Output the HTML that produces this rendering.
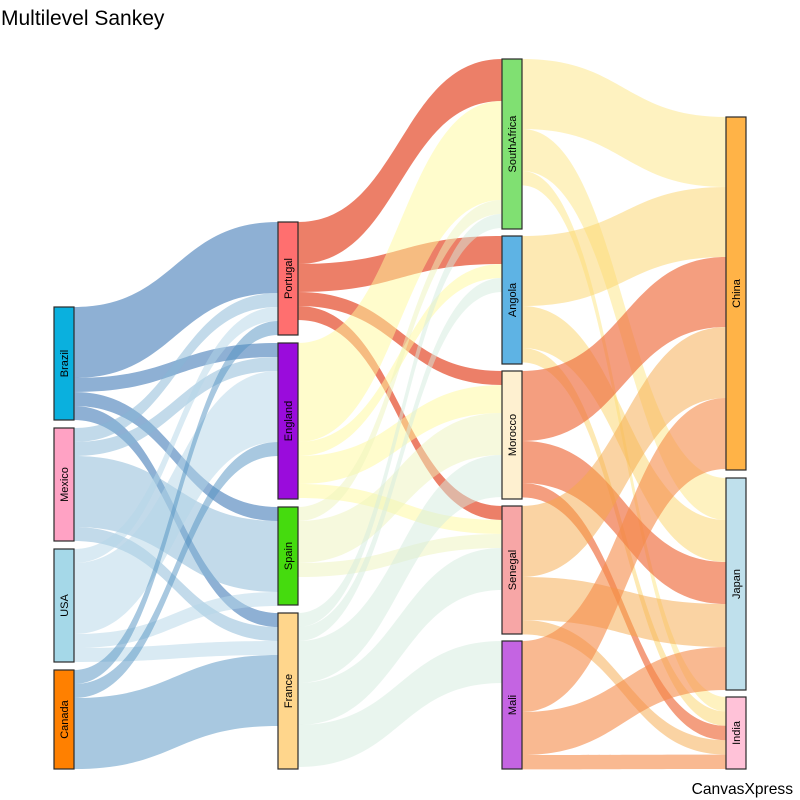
<!DOCTYPE html>
<html>
<head>
<meta charset="utf-8">
<style>
html,body{margin:0;padding:0;background:#fff;}
svg{display:block;}
text{font-family:"Liberation Sans",Arial,sans-serif;}
</style>
</head>
<body>
<svg width="800" height="800" viewBox="0 0 800 800" xmlns="http://www.w3.org/2000/svg">
<rect width="800" height="800" fill="#fff"/>
<text x="1" y="25" font-size="21" fill="#000">Multilevel Sankey</text>

<!-- col1 -> col2 -->
<g fill-opacity="0.5">
<g fill="#1D61A9">
<path d="M74 307C176 307 176 222 278 222L278 293C176 293 176 378 74 378Z"/>
<path d="M74 378C176 378 176 343 278 343L278 357C176 357 176 392 74 392Z"/>
<path d="M74 392C176 392 176 507 278 507L278 521C176 521 176 406 74 406Z"/>
<path d="M74 406C176 406 176 613 278 613L278 627C176 627 176 420 74 420Z"/>
</g>
<g fill="#85B5D5">
<path d="M74 428C176 428 176 293 278 293L278 307C176 307 176 442 74 442Z"/>
<path d="M74 442C176 442 176 357 278 357L278 371C176 371 176 456 74 456Z"/>
<path d="M74 456C176 456 176 521 278 521L278 592C176 592 176 527 74 527Z"/>
<path d="M74 527C176 527 176 627 278 627L278 641C176 641 176 541 74 541Z"/>
</g>
<g fill="#B3D5E7">
<path d="M74 549C176 549 176 307 278 307L278 321C176 321 176 563 74 563Z"/>
<path d="M74 563C176 563 176 371 278 371L278 442C176 442 176 634 74 634Z"/>
<path d="M74 634C176 634 176 592 278 592L278 606C176 606 176 648 74 648Z"/>
<path d="M74 648C176 648 176 641 278 641L278 655C176 655 176 662 74 662Z"/>
</g>
<g fill="#5191C1">
<path d="M74 670C176 670 176 321 278 321L278 335C176 335 176 684 74 684Z"/>
<path d="M74 684C176 684 176 442 278 442L278 456C176 456 176 698 74 698Z"/>
<path d="M74 698C176 698 176 655 278 655L278 726C176 726 176 769 74 769Z"/>
</g>
</g>

<!-- col2 -> col3 -->
<g fill="#E65436" fill-opacity="0.75">
<path d="M298 222C400 222 400 59 502 59L502 101C400 101 400 264 298 264Z"/>
<path d="M298 264C400 264 400 236 502 236L502 264C400 264 400 292 298 292Z"/>
<path d="M298 292C400 292 400 371 502 371L502 385C400 385 400 306 298 306Z"/>
<path d="M298 306C400 306 400 506 502 506L502 520C400 520 400 320 298 320Z"/>
</g>
<g fill-opacity="0.5">
<g fill="#FFF999">
<path d="M298 343C400 343 400 101 502 101L502 200C400 200 400 442 298 442Z"/>
<path d="M298 442C400 442 400 264 502 264L502 278C400 278 400 456 298 456Z"/>
<path d="M298 456C400 456 400 385 502 385L502 413C400 413 400 484 298 484Z"/>
<path d="M298 484C400 484 400 520 502 520L502 534C400 534 400 498 298 498Z"/>
</g>
<g fill="#EDF3BB">
<path d="M298 507C400 507 400 200 502 200L502 214C400 214 400 521 298 521Z"/>
<path d="M298 521C400 521 400 413 502 413L502 455C400 455 400 563 298 563Z"/>
<path d="M298 563C400 563 400 534 502 534L502 548C400 548 400 577 298 577Z"/>
</g>
<g fill="#D3EBDD">
<path d="M298 613C400 613 400 214 502 214L502 228C400 228 400 627 298 627Z"/>
<path d="M298 627C400 627 400 278 502 278L502 292C400 292 400 641 298 641Z"/>
<path d="M298 641C400 641 400 455 502 455L502 497C400 497 400 683 298 683Z"/>
<path d="M298 683C400 683 400 548 502 548L502 590C400 590 400 725 298 725Z"/>
<path d="M298 725C400 725 400 641 502 641L502 683C400 683 400 767 298 767Z"/>
</g>
</g>

<!-- col3 -> col4 -->
<g fill-opacity="0.5">
<g fill="#FDE581">
<path d="M522 59C624 59 624 117 726 117L726 187C624 187 624 129 522 129Z"/>
<path d="M522 129C624 129 624 478 726 478L726 520C624 520 624 171 522 171Z"/>
<path d="M522 171C624 171 624 697 726 697L726 711.4C624 711.4 624 185.4 522 185.4Z"/>
</g>
<g fill="#FBD367">
<path d="M522 236C624 236 624 187 726 187L726 257C624 257 624 306 522 306Z"/>
<path d="M522 306C624 306 624 520 726 520L726 562C624 562 624 348 522 348Z"/>
<path d="M522 348C624 348 624 711.4 726 711.4L726 725.8C624 725.8 624 362.4 522 362.4Z"/>
</g>
</g>
<g fill="#EE6A3A" fill-opacity="0.65">
<path d="M522 371C624 371 624 257 726 257L726 327C624 327 624 441 522 441Z"/>
<path d="M522 441C624 441 624 562 726 562L726 604C624 604 624 483 522 483Z"/>
<path d="M522 483C624 483 624 725.8 726 725.8L726 740.2C624 740.2 624 497.4 522 497.4Z"/>
</g>
<g fill="#F5A747" fill-opacity="0.5">
<path d="M522 506C624 506 624 327 726 327L726 398C624 398 624 577 522 577Z"/>
<path d="M522 577C624 577 624 604 726 604L726 647C624 647 624 620 522 620Z"/>
<path d="M522 620C624 620 624 740.2 726 740.2L726 754.6C624 754.6 624 634.4 522 634.4Z"/>
</g>
<g fill="#F58A48" fill-opacity="0.6">
<path d="M522 641C624 641 624 398 726 398L726 469C624 469 624 712 522 712Z"/>
<path d="M522 712C624 712 624 647 726 647L726 690C624 690 624 755 522 755Z"/>
<path d="M522 755C624 755 624 754.6 726 754.6L726 769C624 769 624 769.4 522 769.4Z"/>
</g>

<!-- nodes -->
<g stroke="#2a2a2a" stroke-width="1.2">
<rect x="54" y="307" width="20" height="113" fill="#0AB0DE"/>
<rect x="54" y="428" width="20" height="113" fill="#FFA2C4"/>
<rect x="54" y="549" width="20" height="113" fill="#A5D8E8"/>
<rect x="54" y="670" width="20" height="99" fill="#FF8000"/>

<rect x="278" y="222" width="20" height="113" fill="#FF6F6F"/>
<rect x="278" y="343" width="20" height="156" fill="#9A0CDC"/>
<rect x="278" y="507" width="20" height="98" fill="#45DB0E"/>
<rect x="278" y="613" width="20" height="156" fill="#FFD68C"/>

<rect x="502" y="59" width="20" height="170" fill="#80E072"/>
<rect x="502" y="236" width="20" height="128" fill="#5EB3E4"/>
<rect x="502" y="371" width="20" height="128" fill="#FEF0D0"/>
<rect x="502" y="506" width="20" height="128" fill="#F7A6A6"/>
<rect x="502" y="641" width="20" height="128" fill="#C464E2"/>

<rect x="726" y="117" width="20" height="353" fill="#FFB347"/>
<rect x="726" y="478" width="20" height="212" fill="#BFE0EC"/>
<rect x="726" y="697" width="20" height="72" fill="#FFC2D8"/>
</g>

<!-- labels -->
<g font-size="11" fill="#000" text-anchor="middle">
<text transform="translate(64,363.5) rotate(-90)" dy="4">Brazil</text>
<text transform="translate(64,484.5) rotate(-90)" dy="4">Mexico</text>
<text transform="translate(64,605.5) rotate(-90)" dy="4">USA</text>
<text transform="translate(64,719.5) rotate(-90)" dy="4">Canada</text>

<text transform="translate(288,278.5) rotate(-90)" dy="4">Portugal</text>
<text transform="translate(288,421) rotate(-90)" dy="4">England</text>
<text transform="translate(288,556) rotate(-90)" dy="4">Spain</text>
<text transform="translate(288,691) rotate(-90)" dy="4">France</text>

<text transform="translate(512,144) rotate(-90)" dy="4">SouthAfrica</text>
<text transform="translate(512,300) rotate(-90)" dy="4">Angola</text>
<text transform="translate(512,435) rotate(-90)" dy="4">Morocco</text>
<text transform="translate(512,570) rotate(-90)" dy="4">Senegal</text>
<text transform="translate(512,705) rotate(-90)" dy="4">Mali</text>

<text transform="translate(736,293.5) rotate(-90)" dy="4">China</text>
<text transform="translate(736,584) rotate(-90)" dy="4">Japan</text>
<text transform="translate(736,733) rotate(-90)" dy="4">India</text>
</g>

<text x="793" y="794" font-size="15.6" fill="#000" text-anchor="end">CanvasXpress</text>
</svg>
</body>
</html>
